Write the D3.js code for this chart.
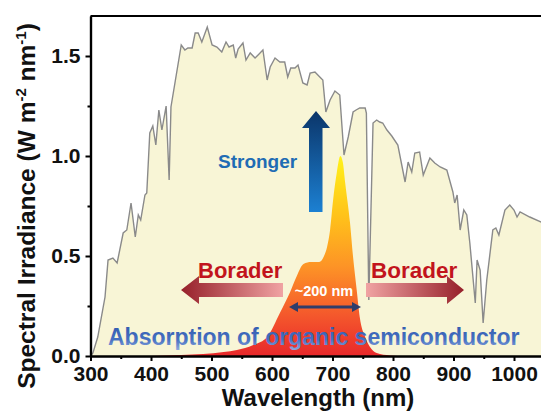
<!DOCTYPE html>
<html>
<head>
<meta charset="utf-8">
<script src="https://cdn.jsdelivr.net/npm/d3@7"></script>
<style>
  body { margin: 0; background: #fff; }
  text { font-family: "Liberation Sans", Arial, sans-serif; font-weight: bold; }
</style>
</head>
<body>
<div id="chart"></div>
<script>
// Solar spectrum (AM1.5G-like)
var solarWl = [300, 304, 312, 324, 329, 337, 344, 354, 360, 367, 374, 379, 383, 390, 393, 398, 403, 408, 413, 418,
  425, 430, 433, 450, 456, 461, 468, 473, 478, 484, 493, 501, 509, 517, 524, 529, 536, 540, 544, 552,
  557, 564, 572, 577, 585, 592, 597, 605, 613, 621, 626, 631, 638, 643, 651, 658, 663, 671, 679, 684,
  689, 696, 704, 712, 719, 726, 734, 739, 745, 754, 756, 760, 767, 773, 778, 783, 790, 798, 808, 820,
  825, 831, 836, 844, 850, 861, 869, 878, 889, 899, 902, 906, 911, 917, 922, 927, 936, 939, 944, 949,
  955, 965, 970, 975, 985, 993, 1000, 1005, 1010, 1026, 1045, 1060];
var solarVal = [0.0, 0.015, 0.095, 0.295, 0.48, 0.49, 0.465, 0.615, 0.63, 0.765, 0.595, 0.705, 0.68, 0.805, 0.815, 1.115, 1.15, 1.055, 1.23, 1.13,
  1.25, 0.88, 1.245, 1.555, 1.53, 1.54, 1.54, 1.615, 1.615, 1.57, 1.645, 1.555, 1.545, 1.52, 1.57, 1.545, 1.555, 1.49, 1.535, 1.565,
  1.48, 1.515, 1.49, 1.505, 1.53, 1.38, 1.445, 1.49, 1.47, 1.47, 1.395, 1.44, 1.44, 1.455, 1.365, 1.355, 1.415, 1.42, 1.395, 1.38,
  1.22, 1.28, 1.325, 1.305, 1.005, 1.095, 1.22, 1.23, 1.24, 1.24, 1.215, 0.28, 1.165, 1.18, 1.17, 1.165, 1.13, 1.10, 1.055, 0.87,
  0.97, 0.92, 1.015, 1.02, 0.905, 0.99, 0.965, 0.945, 0.93, 0.82, 0.765, 0.805, 0.63, 0.73, 0.705, 0.565, 0.265, 0.48, 0.43, 0.165,
  0.38, 0.63, 0.64, 0.605, 0.73, 0.755, 0.73, 0.695, 0.72, 0.695, 0.67, 0.66];

// Absorption of the organic semiconductor
var absWl = [400, 450, 486, 520, 542, 569, 592, 613, 630, 641, 652, 665, 678, 686, 691, 696, 701, 707, 713, 717,
  721, 729, 734, 740, 745, 754, 762, 773, 795, 820];
var absVal = [0, 0.005, 0.01, 0.02, 0.03, 0.055, 0.095, 0.215, 0.32, 0.40, 0.46, 0.47, 0.47, 0.50, 0.545, 0.63, 0.78, 0.915, 1.0, 0.97,
  0.865, 0.665, 0.495, 0.33, 0.195, 0.095, 0.045, 0.015, 0.003, 0];

var xTicks = [300, 400, 500, 600, 700, 800, 900, 1000];
var xMinor = [350, 450, 550, 650, 750, 850, 950, 1050];
var yTicks = [0, 0.5, 1.0, 1.5];
var yMinor = [0.25, 0.75, 1.25];

var solar = solarWl.map(function(w, i) { return {wl: w, v: solarVal[i]}; });
var absorb = absWl.map(function(w, i) { return {wl: w, v: absVal[i]}; });

var svgWidth = 541, svgHeight = 417;
var margin = {top: 16, left: 90.5, bottom: 61};
var plotH = svgHeight - margin.top - margin.bottom;

var svg = d3.select("#chart").append("svg")
  .attr("width", svgWidth).attr("height", svgHeight);

var x = d3.scaleLinear().domain([300, 1100]).range([margin.left, margin.left + 800 * 0.605]);
var y = d3.scaleLinear().domain([0, 1.7]).range([margin.top + plotH, margin.top]);

var defs = svg.append("defs");
defs.append("clipPath").attr("id", "plotClip")
  .append("rect").attr("x", x(300)).attr("y", y(1.7)).attr("width", svgWidth - x(300)).attr("height", y(0) - y(1.7));

var absGrad = defs.append("linearGradient").attr("id", "absGrad")
  .attr("gradientUnits", "userSpaceOnUse").attr("x1", 0).attr("x2", 0).attr("y1", y(1.0)).attr("y2", y(0));
[[0, "#fff21a"], [0.3, "#ffc21a"], [0.55, "#fd9426"], [0.8, "#f4572c"], [1, "#e8282b"]].forEach(function(s) {
  absGrad.append("stop").attr("offset", s[0]).attr("stop-color", s[1]);
});

var blueGrad = defs.append("linearGradient").attr("id", "blueGrad").attr("x1", 0).attr("x2", 0).attr("y1", 0).attr("y2", 1);
blueGrad.append("stop").attr("offset", 0).attr("stop-color", "#0b3569");
blueGrad.append("stop").attr("offset", 1).attr("stop-color", "#1c80d2");

var redLeft = defs.append("linearGradient").attr("id", "redLeft");
redLeft.append("stop").attr("offset", 0).attr("stop-color", "#96202a");
redLeft.append("stop").attr("offset", 1).attr("stop-color", "#f0a3a3");
var redRight = defs.append("linearGradient").attr("id", "redRight");
redRight.append("stop").attr("offset", 0).attr("stop-color", "#f0a3a3");
redRight.append("stop").attr("offset", 1).attr("stop-color", "#96202a");

var textGrad = defs.append("linearGradient").attr("id", "textGrad").attr("x1", 0).attr("x2", 0).attr("y1", 0).attr("y2", 1);
textGrad.append("stop").attr("offset", 0).attr("stop-color", "#2f58ad");
textGrad.append("stop").attr("offset", 0.6).attr("stop-color", "#4670c2");
textGrad.append("stop").attr("offset", 1).attr("stop-color", "#8fa9dd");

var plot = svg.append("g").attr("clip-path", "url(#plotClip)");

// Solar spectrum
plot.append("path").datum(solar)
  .attr("fill", "#f8f5d6")
  .attr("d", d3.area().x(d => x(d.wl)).y0(y(0)).y1(d => y(d.v)));
plot.append("path").datum(solar)
  .attr("fill", "none").attr("stroke", "#8a8a8a").attr("stroke-width", 1.4)
  .attr("d", d3.line().x(d => x(d.wl)).y(d => y(d.v)));

// Absorption peak
plot.append("path").datum(absorb)
  .attr("fill", "url(#absGrad)")
  .attr("d", d3.area().curve(d3.curveMonotoneX).x(d => x(d.wl)).y0(y(0)).y1(d => y(d.v)));

// "Stronger" arrow
svg.append("path")
  .attr("d", "M316,111 L330,128 L322.5,128 L322.5,212 L309,212 L309,128 L302,128 Z")
  .attr("fill", "url(#blueGrad)");
svg.append("text").attr("x", 218).attr("y", 168).attr("font-size", 19).attr("fill", "#1f6cb4").text("Stronger");

// "Borader" arrows
svg.append("path")
  .attr("d", "M181,290 L199,276 L199,283 L283,283 L283,297 L199,297 L199,304 Z")
  .attr("fill", "url(#redLeft)");
svg.append("path")
  .attr("d", "M464,290 L447,276 L447,283 L366,283 L366,297 L447,297 L447,304 Z")
  .attr("fill", "url(#redRight)");
svg.append("text").attr("x", 198).attr("y", 278).attr("font-size", 22).attr("fill", "#c2141c").text("Borader");
svg.append("text").attr("x", 371).attr("y", 278).attr("font-size", 22.5).attr("fill", "#c2141c").text("Borader");

// ~200 nm width marker
svg.append("text").attr("x", 324).attr("y", 296).attr("text-anchor", "middle")
  .attr("font-size", 14.5).attr("fill", "#ffffff").text("~200 nm");
svg.append("line").attr("x1", 296).attr("x2", 354).attr("y1", 307).attr("y2", 307)
  .attr("stroke", "#2e3d6b").attr("stroke-width", 3);
svg.append("path").attr("d", "M289,307 L298,302 L298,312 Z").attr("fill", "#2e3d6b");
svg.append("path").attr("d", "M361,307 L352,302 L352,312 Z").attr("fill", "#2e3d6b");

// Absorption label with reflection
var labelText = "Absorption of organic semiconductor";
svg.append("g").attr("clip-path", "url(#plotClip)")
  .append("text").attr("x", 108).attr("y", -345).attr("transform", "scale(1,-1) translate(0,-690)")
  .attr("font-size", 23).attr("fill", "#6f8fd0").attr("opacity", 0.35).text(labelText);
svg.append("text").attr("x", 108).attr("y", 345)
  .attr("font-size", 23).attr("fill", "url(#textGrad)").text(labelText);

// Axes
svg.append("g").attr("transform", `translate(${x(300)},0)`)
  .call(d3.axisLeft(y).tickValues(yTicks).tickFormat(d3.format(".1f")).tickSize(5).tickSizeOuter(0).tickPadding(5));
svg.append("g").attr("transform", `translate(${x(300)},0)`)
  .call(d3.axisLeft(y).tickValues(yMinor).tickFormat("").tickSize(3).tickSizeOuter(0));
svg.append("g").attr("transform", `translate(0,${y(0)})`)
  .call(d3.axisBottom(x).tickValues(xTicks).tickFormat(d3.format("d")).tickSize(5).tickSizeOuter(0).tickPadding(5));
svg.append("g").attr("transform", `translate(0,${y(0)})`)
  .call(d3.axisBottom(x).tickValues(xMinor).tickFormat("").tickSize(3).tickSizeOuter(0));

svg.selectAll(".domain").attr("stroke", "#000").attr("stroke-width", 2.2);
svg.selectAll(".tick line").attr("stroke", "#000").attr("stroke-width", 2);
svg.selectAll(".tick text").attr("font-size", 21).attr("fill", "#111")
  .style("font-family", "'Liberation Sans', Arial, sans-serif").style("font-weight", "bold");

// Top spine
svg.append("line").attr("x1", x(300)).attr("x2", svgWidth).attr("y1", y(1.7)).attr("y2", y(1.7))
  .attr("stroke", "#000").attr("stroke-width", 2.2);

// Axis titles
svg.append("text").attr("x", 318).attr("y", 406).attr("text-anchor", "middle")
  .attr("font-size", 24).attr("fill", "#111").text("Wavelength (nm)");

var yTitle = svg.append("text").attr("transform", "translate(35,206) rotate(-90)")
  .attr("text-anchor", "middle").attr("font-size", 24.5).attr("fill", "#111");
yTitle.append("tspan").text("Spectral Irradiance (W m");
yTitle.append("tspan").attr("font-size", 15).attr("dy", -9).text("-2");
yTitle.append("tspan").attr("dy", 9).text(" nm");
yTitle.append("tspan").attr("font-size", 15).attr("dy", -9).text("-1");
yTitle.append("tspan").attr("dy", 9).text(")");
</script>
</body>
</html>
